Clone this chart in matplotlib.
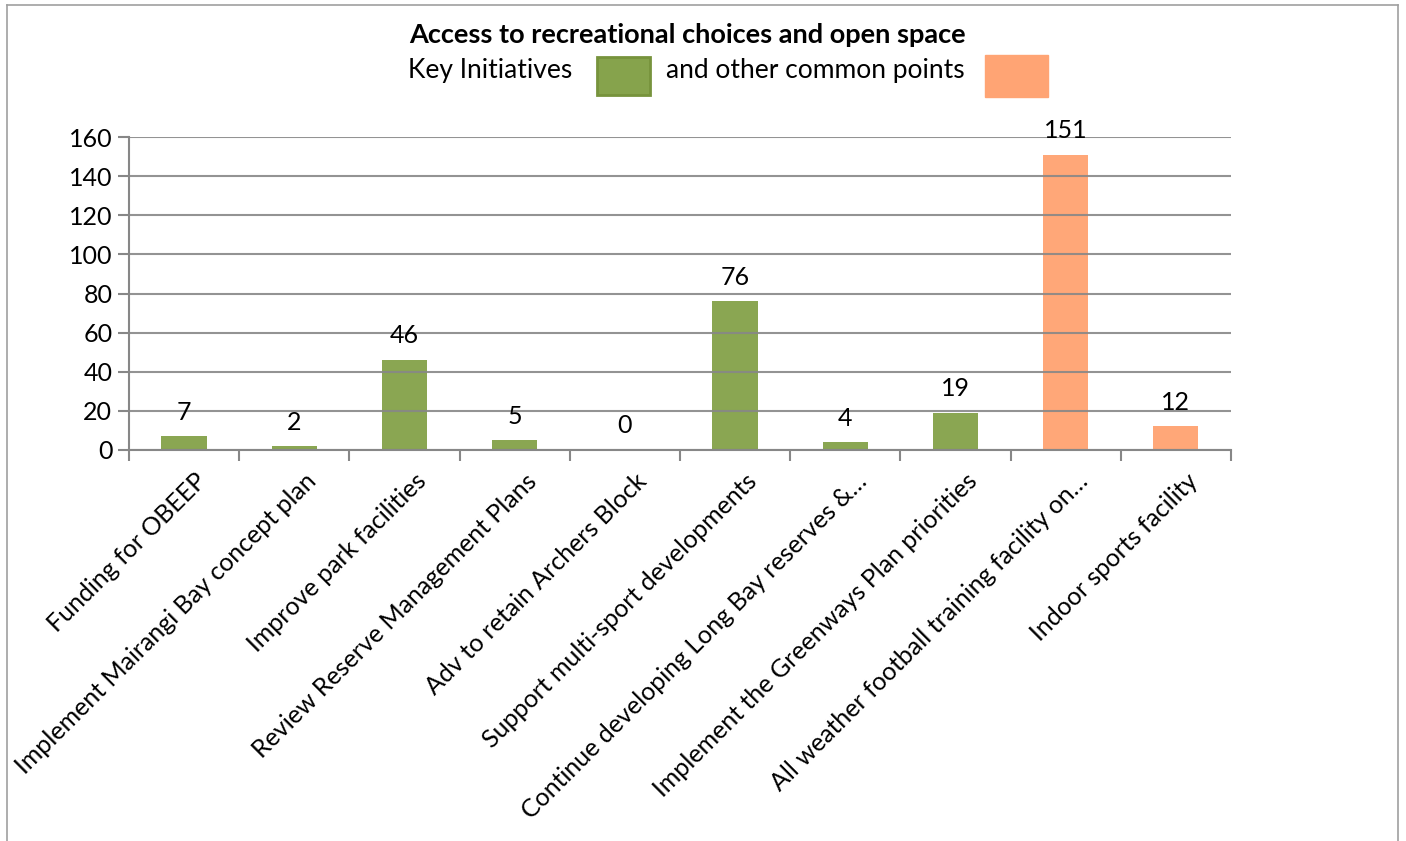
import matplotlib
matplotlib.use("Agg")
import matplotlib.pyplot as plt
import matplotlib.transforms as mtransforms
from matplotlib.patches import Rectangle
from matplotlib.lines import Line2D
import numpy as np

categories = [
    "Funding for OBEEP",
    "Implement Mairangi Bay concept plan",
    "Improve park facilities",
    "Review Reserve Management Plans",
    "Adv to retain Archers Block",
    "Support multi-sport developments",
    "Continue developing Long Bay reserves &\u2026",
    "Implement the Greenways Plan priorities",
    "All weather football training facility on\u2026",
    "Indoor sports facility",
]
values = [7, 2, 46, 5, 0, 76, 4, 19, 151, 12]
groups = ["key", "key", "key", "key", "key", "key", "key", "key", "other", "other"]
yticks = [0, 20, 40, 60, 80, 100, 120, 140, 160]

GREEN = "#86A34C"
GREEN_EDGE = "#77933C"
ORANGE = "#FFA474"
GRID = "#878787"

plt.rcParams["font.family"] = ["Lato", "DejaVu Sans"]

fig = plt.figure(figsize=(14.06, 8.41), dpi=100)
ax = fig.add_axes([0.0917, 0.465, 0.7838, 0.372])

x = np.arange(len(categories))
colors = [GREEN if g == "key" else ORANGE for g in groups]
bars = ax.bar(x, values, width=0.41, color=colors, zorder=2, alpha=0.97)

for xi, v in zip(x, values):
    ax.annotate(str(v), (xi, v), xytext=(0, 9), textcoords="offset points",
                ha="center", va="bottom", fontsize=18, color="black")

ax.set_xlim(-0.5, len(categories) - 0.5)
ax.set_ylim(0, 160)
ax.set_yticks(yticks)
ax.yaxis.grid(True, color=GRID, linewidth=1.5, zorder=3)
ax.set_axisbelow(False)
for gl in ax.get_ygridlines():
    gl.set_zorder(3)
    gl.set_alpha(0.9)

ax.set_xticks(np.arange(-0.5, len(categories), 1.0))
ax.set_xticklabels([])
ax.set_xticks(x, minor=True)
ax.set_xticklabels(categories, minor=True, rotation=45, ha="right",
                   rotation_mode="anchor", fontsize=18)
ax.tick_params(axis="x", which="minor", length=0, pad=14)
ax.tick_params(axis="x", which="major", length=8, width=1.5, color=GRID)
ax.tick_params(axis="y", length=8, width=1.5, color=GRID, labelsize=18, pad=4)

# nudge the slanted labels right a little, like Excel places them
shift = mtransforms.ScaledTranslation(10 / 100, 0, fig.dpi_scale_trans)
for lab in ax.get_xticklabels(minor=True):
    lab.set_transform(lab.get_transform() + shift)

for s in ["top", "right"]:
    ax.spines[s].set_visible(False)
for s in ["left", "bottom"]:
    ax.spines[s].set_color(GRID)
    ax.spines[s].set_linewidth(1.5)

# title and the key drawn as text with coloured boxes
fig.text(0.489, 0.958, "Access to recreational choices and open space",
         ha="center", va="center", fontsize=19.5, fontweight="bold")
fig.text(0.290, 0.916, "Key Initiatives", ha="left", va="center", fontsize=19)
fig.add_artist(Rectangle((597 / 1406, 1 - 95 / 841), 53 / 1406, 38 / 841,
                         transform=fig.transFigure, facecolor=GREEN,
                         edgecolor=GREEN_EDGE, linewidth=2))
fig.text(0.474, 0.916, "and other common points", ha="left", va="center", fontsize=19)
fig.add_artist(Rectangle((985 / 1406, 1 - 97 / 841), 63 / 1406, 42 / 841,
                         transform=fig.transFigure, facecolor=ORANGE,
                         edgecolor=ORANGE, linewidth=1))

# chart border (bottom edge is cut off in the original)
border = dict(color="#A0A0A0", linewidth=1.2, transform=fig.transFigure)
fig.add_artist(Line2D([7 / 1406, 7 / 1406], [0, 1 - 5 / 841], **border))
fig.add_artist(Line2D([7 / 1406, 1398 / 1406], [1 - 5 / 841, 1 - 5 / 841], **border))
fig.add_artist(Line2D([1398 / 1406, 1398 / 1406], [0, 1 - 5 / 841], **border))

fig.savefig("out.png", dpi=100)
